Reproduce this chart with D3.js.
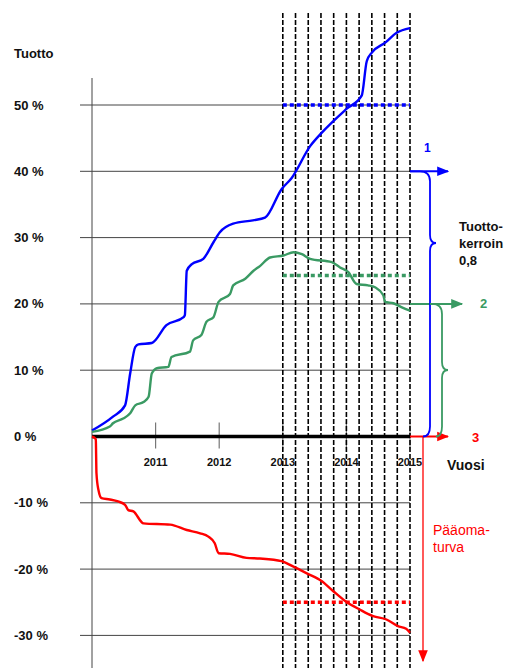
<!DOCTYPE html>
<html>
<head>
<meta charset="utf-8">
<script src="https://cdn.jsdelivr.net/npm/d3@7"></script>
<style>
  body { margin: 0; background: #fff; }
  svg text { font-family: "Liberation Sans", Arial, sans-serif; }
</style>
</head>
<body>
<svg id="chart" width="510" height="668"></svg>
<script>
// Tuotto (%) by year
const blueYears = [2010.0, 2010.33, 2010.52, 2010.6, 2010.68, 2010.73, 2010.94, 2011.17, 2011.44, 2011.46, 2011.49, 2011.57, 2011.75, 2011.91, 2012.01, 2012.22, 2012.53, 2012.72, 2012.98, 2013.14, 2013.43, 2013.61, 2014.0, 2014.24, 2014.32, 2014.4, 2014.61, 2014.79, 2015.0];
const blueValues = [0.9, 3.0, 4.7, 9.5, 13.5, 13.9, 14.1, 16.8, 18.0, 18.3, 25.0, 26.0, 26.8, 29.3, 30.8, 32.1, 32.6, 33.0, 37.3, 39.0, 43.8, 45.8, 49.4, 51.4, 56.6, 57.9, 59.4, 60.9, 61.6];

const greenYears = [2010.0, 2010.28, 2010.33, 2010.49, 2010.6, 2010.68, 2010.81, 2010.89, 2010.94, 2011.02, 2011.2, 2011.25, 2011.54, 2011.59, 2011.72, 2011.8, 2011.91, 2011.99, 2012.17, 2012.22, 2012.41, 2012.54, 2012.64, 2012.8, 2013.01, 2013.17, 2013.3, 2013.43, 2013.77, 2013.9, 2014.03, 2014.16, 2014.34, 2014.45, 2014.58, 2014.61, 2014.74, 2014.89, 2015.0];
const greenValues = [0.7, 1.5, 2.0, 2.7, 3.5, 4.7, 5.2, 6.0, 9.5, 10.3, 10.5, 12.0, 12.8, 14.5, 15.3, 17.3, 18.0, 20.3, 21.5, 22.8, 23.8, 25.0, 25.7, 27.0, 27.3, 27.8, 27.5, 26.8, 26.3, 25.5, 24.8, 23.0, 22.8, 22.5, 21.3, 20.3, 20.1, 19.4, 19.0];

const redYears = [2010.0, 2010.05, 2010.06, 2010.07, 2010.1, 2010.15, 2010.28, 2010.41, 2010.52, 2010.57, 2010.65, 2010.81, 2011.23, 2011.49, 2011.7, 2011.83, 2011.93, 2011.99, 2012.17, 2012.43, 2012.64, 2012.98, 2013.16, 2013.37, 2013.61, 2013.79, 2013.98, 2014.21, 2014.42, 2014.63, 2014.81, 2014.94, 2015.0];
const redValues = [0, -0.3, -0.5, -5.5, -8.0, -9.3, -9.5, -9.8, -10.3, -11.1, -11.3, -13.1, -13.3, -14.1, -14.6, -15.1, -16.1, -17.6, -17.7, -18.3, -18.4, -18.8, -19.6, -20.6, -21.8, -23.3, -24.8, -26.1, -27.1, -27.6, -28.6, -29.0, -29.6];

// dotted target levels (2013 -> 2015)
const targetLevels = [50, 24.3, -25];
const gridTicks = [50, 40, 30, 20, 10, 0, -10, -20, -30];
const yearTicks = [2011, 2012, 2013, 2014, 2015];
const quarterLines = d3.range(0, 11).map(i => 2013 + i * 0.2);

const blue = "#0000ff", green = "#3a9a63", red = "#ff0000";

const svg = d3.select("#chart");
const x = d3.scaleLinear().domain([2010, 2015]).range([92, 410]);
const y = d3.scaleLinear().domain([0, 50]).range([436.5, 105]);

// horizontal grid
svg.append("g").selectAll("line")
  .data(gridTicks.filter(d => d !== 0))
  .join("line")
  .attr("x1", 80).attr("x2", x(2015))
  .attr("y1", d => y(d)).attr("y2", d => y(d))
  .attr("stroke", "#444").attr("stroke-width", 1);

// y labels
svg.append("g").selectAll("text")
  .data(gridTicks)
  .join("text")
  .attr("x", 14).attr("y", d => y(d) + 4.5)
  .attr("font-size", 13).attr("font-weight", "bold").attr("fill", "#111")
  .text(d => d + " %");

svg.append("text").attr("x", 14).attr("y", 58)
  .attr("font-size", 13).attr("font-weight", "bold").attr("fill", "#111").text("Tuotto");

// y axis
svg.append("line").attr("x1", 92).attr("x2", 92).attr("y1", 78).attr("y2", 668)
  .attr("stroke", "#444").attr("stroke-width", 1);

// year ticks
svg.append("g").selectAll("line")
  .data(yearTicks)
  .join("line")
  .attr("x1", d => x(d)).attr("x2", d => x(d))
  .attr("y1", y(0) - 14).attr("y2", y(0) + 12)
  .attr("stroke", "#777").attr("stroke-width", 1.2);

// dashed vertical lines
svg.append("g").selectAll("line")
  .data(quarterLines)
  .join("line")
  .attr("x1", d => x(d)).attr("x2", d => x(d))
  .attr("y1", 13).attr("y2", 668)
  .attr("stroke", "#000").attr("stroke-width", 1.6)
  .attr("stroke-dasharray", "5,2");

// year labels
svg.append("g").selectAll("text")
  .data(yearTicks)
  .join("text")
  .attr("x", d => x(d)).attr("y", 466)
  .attr("text-anchor", "middle")
  .attr("font-size", 11).attr("font-weight", "bold").attr("fill", "#111")
  .text(d => d);

svg.append("text").attr("x", 447).attr("y", 470)
  .attr("font-size", 14).attr("font-weight", "bold").attr("fill", "#111").text("Vuosi");

// zero line
svg.append("line").attr("x1", 92).attr("x2", x(2015)).attr("y1", y(0)).attr("y2", y(0))
  .attr("stroke", "#000").attr("stroke-width", 3.5);

// dotted target lines
svg.append("g").selectAll("line")
  .data(targetLevels)
  .join("line")
  .attr("x1", x(2013)).attr("x2", x(2015))
  .attr("y1", d => y(d)).attr("y2", d => y(d))
  .attr("stroke", (d, i) => [blue, green, red][i])
  .attr("stroke-width", 3.5)
  .attr("stroke-dasharray", "4,3");

// series
const line = d3.line().x(d => x(d[0])).y(d => y(d[1])).curve(d3.curveMonotoneX);
const series = [
  [d3.zip(blueYears, blueValues), blue],
  [d3.zip(greenYears, greenValues), green],
  [d3.zip(redYears, redValues), red]
];
series.forEach(([pts, c]) => {
  svg.append("path").datum(pts)
    .attr("d", line)
    .attr("fill", "none").attr("stroke", c).attr("stroke-width", 2.4);
});

// arrowheads
const defs = svg.append("defs");
[["b", blue], ["g", green], ["r", red]].forEach(([id, c]) => {
  defs.append("marker").attr("id", "arr-" + id)
    .attr("viewBox", "0 0 10 10").attr("refX", 9).attr("refY", 5)
    .attr("markerWidth", 12).attr("markerHeight", 12).attr("markerUnits", "userSpaceOnUse")
    .attr("orient", "auto")
    .append("path").attr("d", "M0,1 L10,5 L0,9 Z").attr("fill", c);
});

const xe = x(2015);
// arrow 1 (blue)
svg.append("line").attr("x1", xe).attr("x2", 448).attr("y1", y(40)).attr("y2", y(40))
  .attr("stroke", blue).attr("stroke-width", 2).attr("marker-end", "url(#arr-b)");
// arrow 2 (green)
svg.append("line").attr("x1", xe).attr("x2", 462).attr("y1", y(20)).attr("y2", y(20))
  .attr("stroke", green).attr("stroke-width", 2).attr("marker-end", "url(#arr-g)");
// arrow 3 (red)
svg.append("line").attr("x1", xe).attr("x2", 448).attr("y1", y(0)).attr("y2", y(0))
  .attr("stroke", red).attr("stroke-width", 2).attr("marker-end", "url(#arr-r)");
// red down arrow
svg.append("line").attr("x1", 423).attr("x2", 423).attr("y1", y(0)).attr("y2", 661)
  .attr("stroke", red).attr("stroke-width", 1.3).attr("marker-end", "url(#arr-r)");

// braces
function brace(xs, xm, top, tip, bottom, endX) {
  const r = 10;
  return `M${xs},${top} L${xm - r},${top} Q${xm},${top} ${xm},${top + r} `
    + `L${xm},${tip - 8} Q${xm},${tip} ${xm + 6},${tip} Q${xm},${tip} ${xm},${tip + 8} `
    + `L${xm},${bottom - r} Q${xm},${bottom} ${endX},${bottom}`;
}
svg.append("path").attr("d", brace(xe, 430, y(40), 243, y(0), 423))
  .attr("fill", "none").attr("stroke", blue).attr("stroke-width", 1.8);
svg.append("path").attr("d", brace(xe + 20, 442, y(20), 370, y(0), 436))
  .attr("fill", "none").attr("stroke", green).attr("stroke-width", 1.8);

// labels
svg.append("text").attr("x", 424).attr("y", 152).attr("font-size", 12).attr("font-weight", "bold")
  .attr("fill", blue).text("1");
svg.append("text").attr("x", 480).attr("y", 308).attr("font-size", 13).attr("font-weight", "bold")
  .attr("fill", green).text("2");
svg.append("text").attr("x", 472).attr("y", 442).attr("font-size", 13).attr("font-weight", "bold")
  .attr("fill", red).text("3");

const tk = svg.append("text").attr("x", 459).attr("y", 231)
  .attr("font-size", 13).attr("font-weight", "bold").attr("fill", "#111");
["Tuotto-", "kerroin", "0,8"].forEach((t, i) => tk.append("tspan").attr("x", 459).attr("dy", i ? 17 : 0).text(t));

const pt = svg.append("text").attr("x", 433).attr("y", 535)
  .attr("font-size", 14).attr("fill", red);
["Pääoma-", "turva"].forEach((t, i) => pt.append("tspan").attr("x", 433).attr("dy", i ? 17 : 0).text(t));
</script>
</body>
</html>
